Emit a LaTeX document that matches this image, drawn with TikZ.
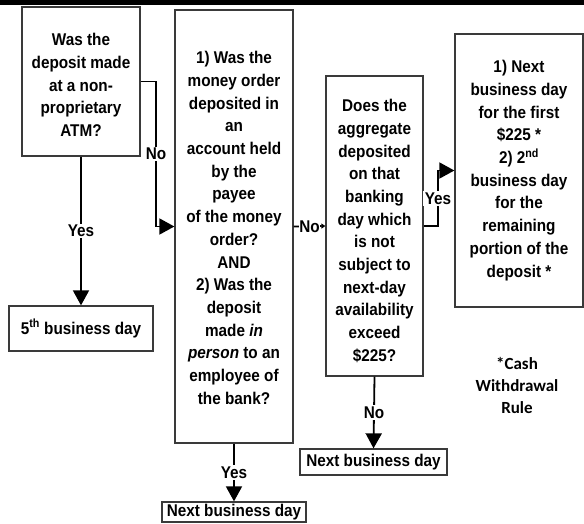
\documentclass[tikz,border=0pt]{standalone}
\usepackage{fontspec}
\setmainfont{Liberation Sans}[FakeStretch=0.9]
\newfontfamily\notefont{Carlito}
\usetikzlibrary{arrows.meta}
\definecolor{boxgray}{HTML}{3A3A3A}
\newcommand\dn[2]{\raisebox{-#1}[\height][\depth]{\begin{tabular}{@{}c@{}}#2\end{tabular}}}
\begin{document}
\begin{tikzpicture}[x=1pt,y=-1pt,
  box/.style={draw=boxgray, line width=1.3pt, fill=white, align=center, inner sep=0pt,
    font=\bfseries\fontsize{17}{22.7}\selectfont},
  conn/.style={line width=1.8pt},
  arr/.style={-{Triangle[width=16pt,length=15pt]}},
  smallarr/.style={-{Triangle[width=5pt,length=4pt]}},
  lab/.style={fill=white, inner sep=1.5pt, font=\bfseries\fontsize{17}{20}\selectfont}]
\useasboundingbox (0,0) rectangle (584,523);
\fill[black] (0,0) rectangle (584,4.5);

\node[box, minimum width=118pt, minimum height=149pt] (b1) at (81,81.5)
  {\dn{5pt}{Was the\\deposit made\\at a non-\\proprietary\\ATM?}};
\node[box, minimum width=118pt, minimum height=433pt] (b2) at (234,226.5)
  {\dn{3pt}{1) Was the\\money order\\deposited in\\an\\account held\\by the\\payee\\of the money\\order?\\AND\\2) Was the\\deposit\\made \textit{in}\\\textit{person} to an\\employee of\\the bank?}};
\node[box, minimum width=97pt, minimum height=300pt] (b3) at (374.5,226)
  {\dn{6pt}{Does the\\aggregate\\deposited\\on that\\banking\\day which\\is not\\subject to\\next-day\\availability\\exceed\\\$225?}};
\node[box, minimum width=128pt, minimum height=273pt] (b4) at (519,170.5)
  {1) Next\\business day\\for the first\\\$225 *\\2) 2\textsuperscript{nd}\\business day\\for the\\remaining\\portion of the\\deposit *};
\node[box, minimum width=144pt, minimum height=45pt] (five) at (81,328.5)
  {5\textsuperscript{th} business day};
\node[box, minimum width=144pt, minimum height=20pt] (nbd1) at (234,512)
  {Next business day};
\node[box, minimum width=147pt, minimum height=26pt] (nbd2) at (373.5,462)
  {Next business day};
\node[font=\notefont\bfseries\fontsize{17}{22}\selectfont, align=center] (note) at (517,385)
  {*Cash\\Withdrawal\\Rule};

\coordinate (c1) at (156,81.5);
\coordinate (c2) at (438,226);

\draw[conn,arr] (b1.east) -- (c1) |- node[lab,pos=0.25] {No} (b2.west);
\draw[conn,arr] (b1.south) -- node[lab] {Yes} (five.north);
\draw[conn,arr] (b2.south) -- node[lab] {Yes} (nbd1.north);
\draw[conn,smallarr] (b2.east) -- node[lab,inner sep=0.5pt] {No} (b3.west);
\draw[conn,arr] (b3.east) -- (c2) |- node[lab,pos=0.25] {Yes} (b4.west);
\draw[conn,arr] (b3.south) -- node[lab] {No} (nbd2.north);
\end{tikzpicture}
\end{document}
